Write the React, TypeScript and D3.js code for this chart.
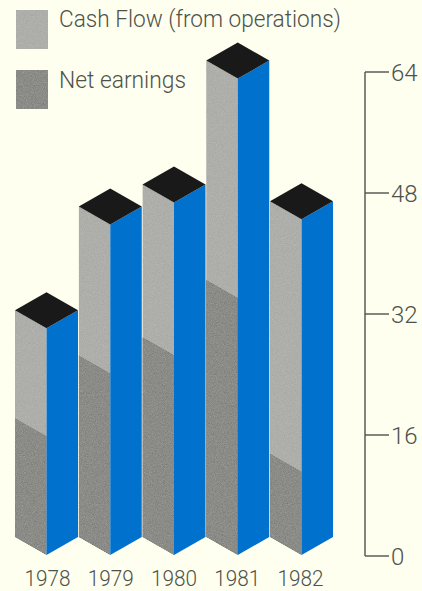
import React from "react";
import * as d3 from "d3";

const years = ["1978", "1979", "1980", "1981", "1982"];
const cashFlow = [30, 43.7, 46.6, 63, 44.4];
const netEarnings = [15.7, 24, 26.4, 34, 11];
const axisTicks = [0, 16, 32, 48, 64];

const WIDTH = 422;
const HEIGHT = 591;
const INK = "#4e524b";
const PAPER = "#fffff0";
const LIGHT_GREY = "#aeaeaa";
const DARK_GREY = "#8b8b87";
const BLUE = "#0071cd";
const ROOF = "#191919";
const FONT = "Roboto, 'Liberation Sans', sans-serif";

// Vertical scale of the axis; bars sit one pixel above its zero line.
const yAxis = d3.scaleLinear().domain([0, 64]).range([556, 72]);
const yBar = (v: number) => yAxis(v) - 1;

// Horizontal position of each column's front edge, and of its year label.
const xFront = d3.scalePoint<string>().domain(years).range([46.5, 301.5]);
const xLabel = d3.scalePoint<string>().domain(years).range([47.5, 300.5]);
const HALF_W = 31.5;
const SKEW = 18;

const poly = (pts: [number, number][]) => d3.line()(pts) + "Z";

function Column({ year, cash, net }: { year: string; cash: number; net: number }) {
  const x = xFront(year) as number;
  const l = x - HALF_W;
  const r = x + HALF_W;
  const base = yBar(0);
  const top = yBar(cash);
  const mid = yBar(net);
  return (
    <g>
      <path
        d={poly([[l, top - SKEW], [x, top], [x, base], [l, base - SKEW]])}
        fill={LIGHT_GREY}
        filter="url(#grain)"
      />
      <path
        d={poly([[l, mid - SKEW], [x, mid], [x, base], [l, base - SKEW]])}
        fill={DARK_GREY}
        filter="url(#grainStrong)"
      />
      <path
        d={poly([[x, top], [r, top - SKEW], [r, base - SKEW], [x, base]])}
        fill={BLUE}
      />
      <path
        d={poly([[l, top - SKEW], [x, top - 2 * SKEW], [r, top - SKEW], [x, top]])}
        fill={ROOF}
      />
    </g>
  );
}

function GrainFilter({ id, amount }: { id: string; amount: number }) {
  return (
    <filter id={id} x="0" y="0" width="100%" height="100%" colorInterpolationFilters="sRGB">
      <feTurbulence type="fractalNoise" baseFrequency="1.1" numOctaves={2} seed={4} result="noise" />
      <feColorMatrix
        in="noise"
        type="matrix"
        values="0.33 0.33 0.33 0 0 0.33 0.33 0.33 0 0 0.33 0.33 0.33 0 0 0 0 0 0 1"
        result="mono"
      />
      <feComposite
        in="SourceGraphic"
        in2="mono"
        operator="arithmetic"
        k1={0}
        k2={1}
        k3={amount}
        k4={-amount / 2}
        result="speckled"
      />
      <feComposite in="speckled" in2="SourceAlpha" operator="in" />
    </filter>
  );
}

export default function App() {
  return (
    <svg
      width={WIDTH}
      height={HEIGHT}
      viewBox={`0 0 ${WIDTH} ${HEIGHT}`}
      style={{ position: "absolute", left: 0, top: 0, display: "block" }}
    >
      <defs>
        <GrainFilter id="grain" amount={0.16} />
        <GrainFilter id="grainStrong" amount={0.3} />
      </defs>
      <rect width={WIDTH} height={HEIGHT} fill={PAPER} />

      {/* Legend */}
      <rect x={16} y={10} width={32} height={39} fill={LIGHT_GREY} filter="url(#grain)" />
      <rect x={16} y={70} width={32} height={39} fill={DARK_GREY} filter="url(#grainStrong)" />
      <g fontFamily={FONT} fontWeight={300} fontSize={24.5} fill={INK}>
        <text x={59} y={27} textLength={282} lengthAdjust="spacingAndGlyphs">
          Cash Flow (from operations)
        </text>
        <text x={59} y={88} textLength={127} lengthAdjust="spacingAndGlyphs">
          Net earnings
        </text>
      </g>

      {/* Columns */}
      {years.map((year, i) => (
        <Column key={year} year={year} cash={cashFlow[i]} net={netEarnings[i]} />
      ))}

      {/* Year labels */}
      <g fontFamily={FONT} fontWeight={300} fontSize={22.5} fill={INK}>
        {years.map((year) => (
          <text
            key={year}
            x={(xLabel(year) as number) - 23}
            y={585.5}
            textLength={46}
            lengthAdjust="spacingAndGlyphs"
          >
            {year}
          </text>
        ))}
      </g>

      {/* Value axis */}
      <line x1={365} x2={365} y1={yAxis(0)} y2={yAxis(64)} stroke={INK} strokeWidth={1.4} />
      {axisTicks.map((t) => (
        <g key={t}>
          <line x1={365} x2={389} y1={yAxis(t)} y2={yAxis(t)} stroke={INK} strokeWidth={1.4} />
          <text
            x={391}
            y={yAxis(t) + 8.5}
            fontFamily={FONT}
            fontWeight={300}
            fontSize={24}
            fill={INK}
          >
            {t}
          </text>
        </g>
      ))}
    </svg>
  );
}
